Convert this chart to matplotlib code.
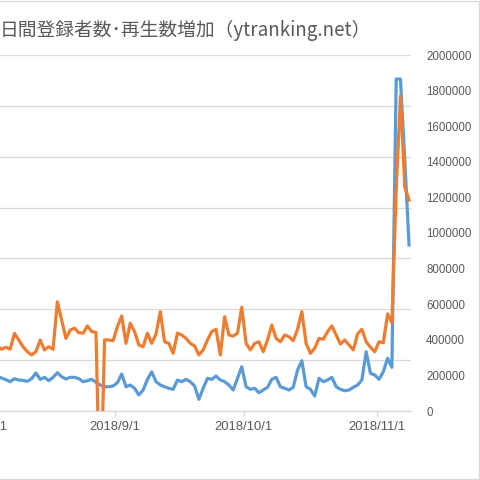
import matplotlib
matplotlib.use('Agg')
import matplotlib.pyplot as plt
import pandas as pd
from matplotlib.patches import Rectangle

# ---- data ----
start_date = '2018-08-04 12:00'
# daily view increase (right axis)
views = [365000, 347000, 358000, 347000, 436000, 399000, 361000, 333000, 315000, 333000,
         399000, 343000, 361000, 347000, 614000, 511000, 408000, 455000, 465000, 440000,
         437000, 478000, 446000, 442000, -600000, 399000, 399000, 395000, 474000, 534000,
         380000, 493000, 446000, 371000, 361000, 437000, 380000, 433000, 558000, 389000,
         380000, 324000, 437000, 427000, 408000, 380000, 365000, 315000, 343000, 399000,
         446000, 459000, 315000, 530000, 427000, 421000, 437000, 583000, 380000, 343000,
         380000, 389000, 333000, 399000, 483000, 408000, 389000, 427000, 417000, 395000,
         459000, 558000, 380000, 324000, 352000, 408000, 403000, 446000, 478000, 427000,
         376000, 399000, 371000, 343000, 433000, 459000, 389000, 358000, 333000, 389000,
         384000, 545000, 496000, 1240000, 1770000, 1260000, 1185000]
# daily subscriber increase (left axis, hidden)
subs = [674, 649, 615, 576, 635, 609, 603, 584, 635, 747,
        623, 662, 596, 662, 753, 674, 629, 662, 662, 635,
        576, 596, 623, 564, 511, 478, 478, 492, 556, 727,
        478, 511, 446, 315, 413, 623, 770, 576, 511, 478,
        446, 427, 609, 576, 623, 576, 492, 230, 446, 643,
        623, 688, 609, 576, 511, 413, 643, 871, 478, 427,
        446, 360, 413, 466, 623, 662, 478, 446, 413, 466,
        806, 989, 478, 427, 295, 643, 576, 609, 662, 478,
        427, 399, 413, 466, 511, 609, 1166, 741, 708, 623,
        773, 1036, 859, 6527, 6527, 4935, 3264]
dates = pd.date_range(start_date, periods=len(views), freq='D')

tick_dates = pd.to_datetime(['2018-08-01', '2018-09-01', '2018-10-01', '2018-11-01'])
tick_labels = ['2018/8/1', '2018/9/1', '2018/10/1', '2018/11/1']
right_ticks = list(range(0, 2000001, 200000))
left_ticks = list(range(0, 7001, 1000))
title = '日間登録者数･再生数増加（ytranking.net）'

# ---- layout ----
W = H = 480
fig = plt.figure(figsize=(4.8, 4.8), dpi=100)
def fx(px): return px / W
def fy(py): return 1 - py / H

left_px, right_px, top_px, bottom_px = -17.7, 411.2, 55, 411
ax = fig.add_axes([fx(left_px), fy(bottom_px), (right_px - left_px) / W, (bottom_px - top_px) / H])
ax2 = ax.twinx()

grey = '#d9d9d9'
txt = '#595959'
blue = '#5B9BD5'
orange = '#ED7D31'

ax.plot(dates, subs, color=blue, lw=2.3, solid_joinstyle='round')
ax2.plot(dates, views, color=orange, lw=2.3, solid_joinstyle='round')

ax.set_xlim(pd.Timestamp('2018-08-01'), pd.Timestamp('2018-11-09'))
ax.set_ylim(0, 7000)
ax.set_yticks(left_ticks)
ax.yaxis.grid(True, color=grey, lw=0.9)
ax.set_axisbelow(True)
ax.tick_params(axis='y', left=False, labelleft=False)
ax2.set_ylim(0, 2000000)
ax2.set_yticks(right_ticks)
ax2.set_yticklabels([str(v) for v in right_ticks])
ax2.tick_params(axis='y', right=False, pad=7.2, labelsize=8.3, labelcolor=txt)
for lab in ax2.get_yticklabels():
    lab.set_family('Liberation Sans')

ax.set_xticks(tick_dates)
ax.set_xticklabels(tick_labels)
ax.tick_params(axis='x', length=3.5, width=0.9, color=grey, pad=4, labelsize=9.4, labelcolor=txt)
for lab in ax.get_xticklabels():
    lab.set_family('Liberation Sans')

for a in (ax, ax2):
    for s in ('top', 'left', 'right', 'bottom'):
        a.spines[s].set_visible(False)
ax.spines['bottom'].set_visible(True)
ax.spines['bottom'].set_color(grey)
ax.spines['bottom'].set_linewidth(0.9)

fig.text(fx(0), fy(30), title, family=['Noto Sans CJK JP', 'DejaVu Sans'],
         fontsize=13.5, color=txt, ha='left', va='center')

fig.add_artist(Rectangle((fx(-5), fy(479.3)), (484.3) / W, (478.6) / H,
                         transform=fig.transFigure, fill=False, ec=grey, lw=0.9))

fig.savefig('out.png', dpi=100)
